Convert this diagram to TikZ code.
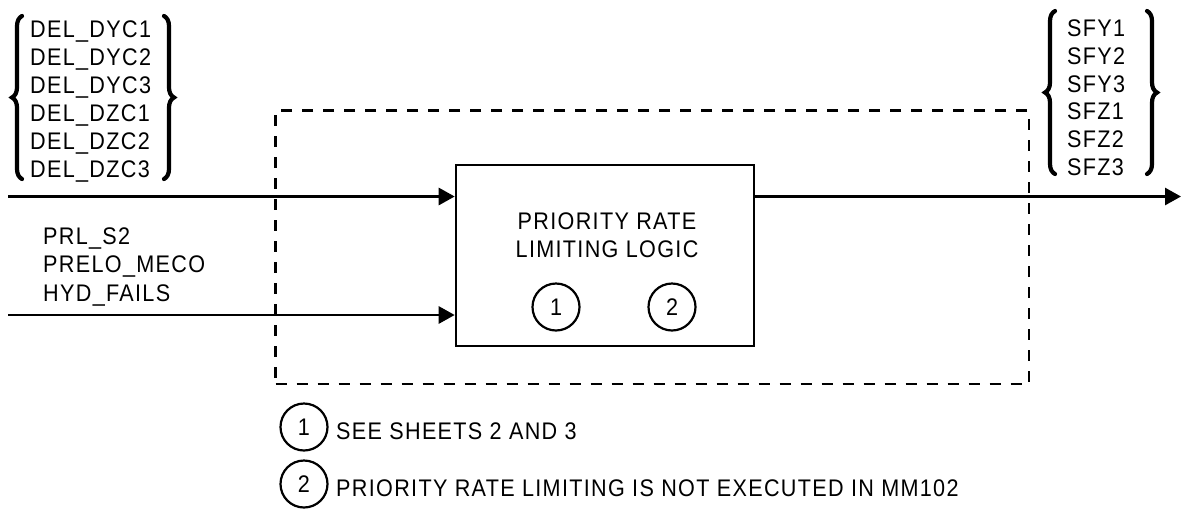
\documentclass[tikz,border=0pt]{standalone}
\usepackage{fontspec}
\setmainfont[FakeStretch=0.9,LetterSpace=5.5]{Liberation Sans}
\usetikzlibrary{arrows.meta,decorations.pathreplacing}
\begin{document}
\begin{tikzpicture}[x=1pt,y=-1pt,
  every node/.style={font=\fontsize{24}{28}\selectfont, inner sep=0pt},
  lbl/.style={anchor=base west},
  wire/.style={line width=2.8pt},
  arr/.style={wire,-{Triangle[length=16pt,width=17pt]}},
  blk/.style={draw,line width=2.6pt,minimum width=298pt,minimum height=181pt},
  refc/.style={draw,circle,line width=2.2pt,minimum size=47pt},
  grp/.style={line width=4.2pt,line cap=round,decorate,decoration={brace,amplitude=10pt}},
  dbox/.style={draw,line width=2.8pt,dash pattern=on 11pt off 10pt,minimum width=753.5pt,minimum height=273.5pt}]
\useasboundingbox (0,0) rectangle (1182,512);

% dashed enclosure
\node[dbox] (db) at (652.25,247.25) {};

% main block
\node[blk] (box) at (605,255.5) {};
\node[align=center] (title) at (607,235) {PRIORITY RATE\\LIMITING LOGIC};
\node[refc] (c1) at (556,307) {1};
\node[refc] (c2) at (672,307) {2};

% left input group
\foreach \t [count=\i] in {DEL\_DYC1,DEL\_DYC2,DEL\_DYC3,DEL\_DZC1,DEL\_DZC2,DEL\_DZC3}
  \node[lbl] (l\i) at (30,{37.5+28*(\i-1)}) {\t};
\draw[grp] (22,179) -- (22,16);
\draw[grp] (164,16) -- (164,179);

% second input group
\node[lbl] (p1) at (43,244) {PRL\_S2};
\node[lbl] (p2) at (43,272.7) {PRELO\_MECO};
\node[lbl] (p3) at (43,301.5) {HYD\_FAILS};

% output group
\foreach \t [count=\i] in {SFY1,SFY2,SFY3,SFZ1,SFZ2,SFZ3}
  \node[lbl] (r\i) at (1067,{36.7+27.7*(\i-1)}) {\t};
\draw[grp] (1055,174) -- (1055,11);
\draw[grp] (1147,11) -- (1147,174);

% connectors
\coordinate (i1) at (8,196.5);
\coordinate (i2) at (8,315);
\coordinate (o1) at (1181,196.5);
\draw[arr] (i1) -- (i1 -| box.west);
\draw[arr] (i2) -- (i2 -| box.west);
\draw[arr] (box.east |- o1) -- (o1);

% notes
\node[refc] (n1) at (304,427) {1};
\node[refc] (n2) at (304,484) {2};
\node[lbl] (t1) at (336,439.5) {SEE SHEETS 2 AND 3};
\node[lbl] (t2) at (336,496.5) {PRIORITY RATE LIMITING IS NOT EXECUTED IN MM102};
\end{tikzpicture}
\end{document}
